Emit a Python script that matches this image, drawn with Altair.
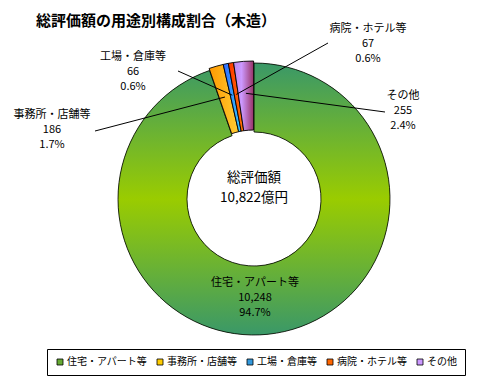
import altair as alt
import pandas as pd

# ---------------- data ----------------
CATEGORIES = ["住宅・アパート等", "事務所・店舗等", "工場・倉庫等", "病院・ホテル等", "その他"]
VALUES = [10248, 186, 66, 67, 255]
LEGEND_COLORS = ["#66aa33", "#ffcc00", "#3399dd", "#ff6600", "#cc99ff"]
TITLE = "総評価額の用途別構成割合（木造）"
CENTER_LABEL = "総評価額"
UNIT = "億円"

# ---------------- style / layout ----------------
FONT = "Noto Sans CJK JP"
CX, CY = 246, 191          # donut centre (view px)
R_OUT, R_IN = 136, 67
EXPLODE = (-0.4, -2.0)     # offset of the pulled-out small slices
R_LEADER = 104             # radius where leader lines end inside slices

LABEL_POS = {              # centre x / first-line y of each text block
    "住宅・アパート等": (247, 275),
    "事務所・店舗等": (44, 107),
    "工場・倉庫等": (125, 49),
    "病院・ホテル等": (360, 21),
    "その他": (395, 88),
}
LEADER_START = {           # outer end of leader line
    "事務所・店舗等": (87, 123),
    "工場・倉庫等": (170, 63),
    "病院・ホテル等": (320, 35),
    "その他": (377, 104),
}


def grad(stops, x1=0, y1=0, x2=1, y2=0):
    return alt.Gradient(
        gradient="linear",
        stops=[alt.GradientStop(offset=o, color=c) for o, c in stops],
        x1=x1, y1=y1, x2=x2, y2=y2,
    )


GRADIENTS = [
    grad([(0, "#3a9868"), (0.5, "#9acc00"), (1, "#3a9868")], 0, 0, 0, 1),
    grad([(0, "#ff9900"), (1, "#ffcc33")]),
    grad([(0, "#3366ff"), (1, "#33ccff")]),
    grad([(0, "#ff3300"), (1, "#ff7700")]),
    grad([(0, "#bb88ee"), (0.4, "#cc99ff"), (1, "#993366")]),
]

df = pd.DataFrame({
    "category": CATEGORIES,
    "value": VALUES,
    "order": list(range(len(CATEGORIES))),
})
df["tx"] = [LABEL_POS[c][0] for c in CATEGORIES]
df["ty"] = [LABEL_POS[c][1] for c in CATEGORIES]
df["lx"] = [LEADER_START.get(c, (None, None))[0] for c in CATEGORIES]
df["ly"] = [LEADER_START.get(c, (None, None))[1] for c in CATEGORIES]

base = (
    alt.Chart(df)
    .transform_window(cum="sum(value)", sort=[alt.SortField("order")], frame=[None, 0])
    .transform_joinaggregate(total="sum(value)")
    .transform_calculate(
        t0="(datum.cum - datum.value) / datum.total",
        t1="datum.cum / datum.total",
        mid="(datum.cum - datum.value / 2) / datum.total",
    )
)

theta = alt.Theta("t0:Q", scale=alt.Scale(domain=[0, 1]))
theta2 = alt.Theta2("t1:Q")

legend = alt.Legend(
    orient="none", legendX=39, legendY=341, direction="horizontal",
    symbolType="square", symbolSize=36, symbolStrokeColor="black",
    symbolStrokeWidth=0.8, labelFont=FONT, labelFontSize=10, labelColor="black",
    strokeColor="black", fillColor="white", padding=8, columnPadding=8,
    labelOffset=2,
)

ring_solid = base.transform_filter(alt.datum.order == 0).mark_arc(
    outerRadius=R_OUT, innerRadius=R_IN
).encode(
    theta=theta, theta2=theta2, x=alt.value(CX), y=alt.value(CY),
    color=alt.Color("category:N",
                    scale=alt.Scale(domain=CATEGORIES, range=LEGEND_COLORS),
                    title=None, legend=legend),
)

layers = [ring_solid]
for i, cat in enumerate(CATEGORIES):
    ox, oy = (0, 0) if i == 0 else EXPLODE
    layers.append(
        base.transform_filter(alt.datum.order == i).mark_arc(
            outerRadius=R_OUT, innerRadius=R_IN, fill=GRADIENTS[i],
            stroke="black", strokeWidth=0.9 if i else 0.8,
        ).encode(theta=theta, theta2=theta2,
                 x=alt.value(CX + ox), y=alt.value(CY + oy))
    )

leaders = base.transform_filter(alt.datum.order > 0).transform_calculate(
    ix=f"{CX + EXPLODE[0]} + {R_LEADER} * sin(2 * PI * datum.mid)",
    iy=f"{CY + EXPLODE[1]} - {R_LEADER} * cos(2 * PI * datum.mid)",
).mark_rule(color="black", strokeWidth=1).encode(
    x=alt.X("ix:Q", scale=None, axis=None),
    y=alt.Y("iy:Q", scale=None, axis=None),
    x2="lx:Q", y2="ly:Q",
)

labels = base.transform_calculate(
    lbl="datum.category + '\\n' + format(datum.value, ',') + '\\n' + format(datum.value / datum.total, '.1%')"
).mark_text(
    lineBreak="\n", lineHeight=15, font=FONT, fontSize=11, color="black",
    align="center", baseline="middle",
).encode(
    x=alt.X("tx:Q", scale=None, axis=None),
    y=alt.Y("ty:Q", scale=None, axis=None),
    text="lbl:N",
)

center_total = alt.Chart(df).transform_aggregate(total="sum(value)")
center1 = center_total.transform_calculate(c=f"'{CENTER_LABEL}'").mark_text(
    font=FONT, fontSize=13.5, color="black", align="center", baseline="middle",
).encode(x=alt.value(CX), y=alt.value(170), text="c:N")
center2 = center_total.transform_calculate(
    c=f"format(datum.total, ',') + '{UNIT}'"
).mark_text(
    font=FONT, fontSize=13.5, color="black", align="center", baseline="middle",
).encode(x=alt.value(CX), y=alt.value(190), text="c:N")

title = alt.Chart(pd.DataFrame({"t": [TITLE]})).mark_text(
    font=FONT, fontSize=15, fontWeight="bold", color="black",
    align="left", baseline="middle",
).encode(x=alt.value(28), y=alt.value(13), text="t:N")

chart = alt.layer(*layers, leaders, labels, center1, center2, title).properties(
    width=479, height=370, padding=0, autosize="none"
).configure_view(strokeWidth=0)

chart.save("out.html", embed_options={"renderer": "svg", "actions": False})
